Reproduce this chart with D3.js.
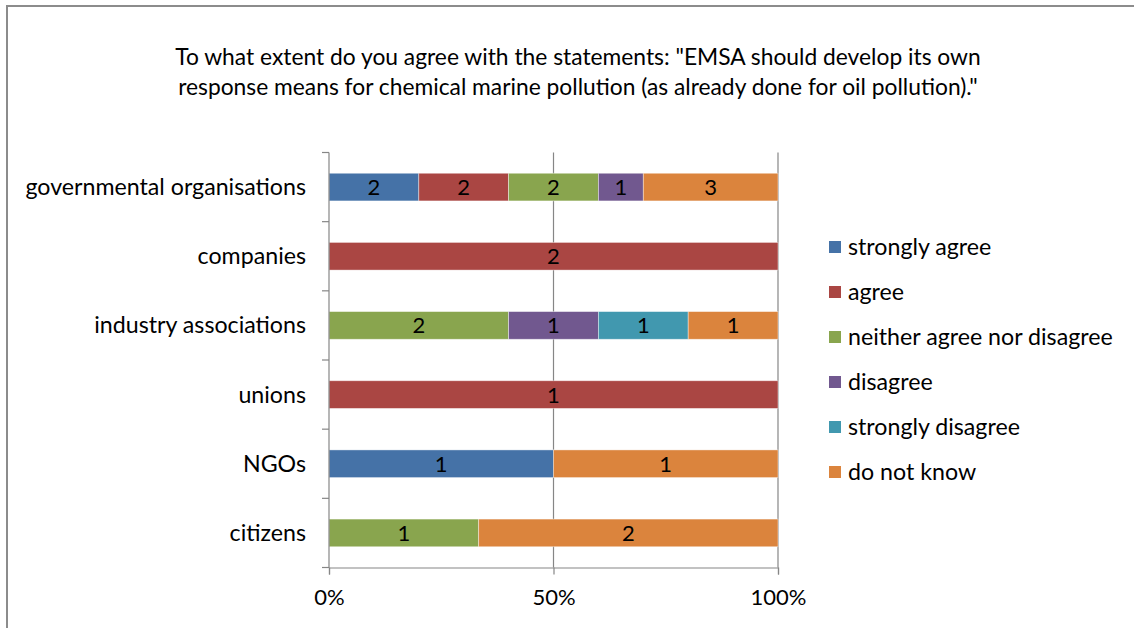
<!DOCTYPE html>
<html><head><meta charset="utf-8">
<script src="https://cdn.jsdelivr.net/npm/d3@7"></script>
<style>
body{margin:0;background:#fff;}
svg{display:block;font-family:Lato,"Open Sans",sans-serif;}
</style></head>
<body><svg id="c" width="1134" height="628"></svg>
<script>
const titleLines = ['To what extent do you agree with the statements: "EMSA should develop its own',
  'response means for chemical marine pollution (as already done for oil pollution)."'];
const categories = ["governmental organisations","companies","industry associations","unions","NGOs","citizens"];
const seriesNames = ["strongly agree","agree","neither agree nor disagree","disagree","strongly disagree","do not know"];
const stronglyAgree   = [2,0,0,0,1,0];
const agree           = [2,2,0,1,0,0];
const neither         = [2,0,2,0,0,1];
const disagree        = [1,0,1,0,0,0];
const stronglyDisagree= [0,0,1,0,0,0];
const doNotKnow       = [3,0,1,0,1,2];
const xTicks = [0,0.5,1];
const colors = ["#4572A7","#AA4643","#89A54E","#71588F","#4198AF","#DB843D"];

const seriesVals = [stronglyAgree,agree,neither,disagree,stronglyDisagree,doNotKnow];
const rows = categories.map((c,i)=>{const r={cat:c}; seriesNames.forEach((s,j)=>r[s]=seriesVals[j][i]); return r;});
const stack = d3.stack().keys(seriesNames).offset(d3.stackOffsetExpand)(rows);

const svg = d3.select("#c");
svg.append("rect").attr("x",7).attr("y",6).attr("width",1140).attr("height",640)
  .attr("fill","none").attr("stroke","#8c8c8c").attr("stroke-width",2);

svg.append("text").attr("text-anchor","middle").attr("fill","#000")
  .style("font-size","22.8px")
  .selectAll("tspan").data(titleLines).join("tspan")
  .attr("x",578).attr("y",(d,i)=>65+i*30).text(d=>d);

const L=329,R=778,T=152.5,B=567.5;
const x = d3.scaleLinear().domain([0,1]).range([L,R]);
const y = d3.scaleBand().domain(categories).range([T,B]).paddingInner(0.6).paddingOuter(0.3);
const yb = d3.scaleBand().domain(categories).range([T,B]);

svg.append("g").selectAll("line").data(xTicks.filter(t=>t>0)).join("line")
  .attr("x1",d=>x(d)).attr("x2",d=>x(d)).attr("y1",T).attr("y2",B)
  .attr("stroke","#868686").attr("stroke-width",1.2);

const g = svg.append("g");
stack.forEach((s,j)=>{
  g.append("g").selectAll("rect").data(s.filter(d=>d[1]-d[0]>0)).join("rect")
    .attr("x",d=>x(d[0])).attr("width",d=>x(d[1])-x(d[0]))
    .attr("y",d=>y(d.data.cat)).attr("height",y.bandwidth())
    .attr("fill",colors[j]).attr("stroke","#fff").attr("stroke-opacity",0.5).attr("stroke-width",0.8);
  g.append("g").selectAll("text").data(s.filter(d=>d[1]-d[0]>0)).join("text")
    .attr("x",d=>(x(d[0])+x(d[1]))/2).attr("y",d=>y(d.data.cat)+y.bandwidth()/2+8)
    .attr("text-anchor","middle").style("font-size","22px").attr("fill","#000")
    .text(d=>d.data[seriesNames[j]]);
});

const yAxis = svg.append("g").attr("transform",`translate(${L},0)`);
yAxis.append("line").attr("x1",0).attr("x2",0).attr("y1",T).attr("y2",B).attr("stroke","#868686").attr("stroke-width",1.2);
const bounds = categories.map(c=>yb(c)).concat([B]);
yAxis.selectAll("line.t").data(bounds).join("line").attr("class","t")
  .attr("x1",-7).attr("x2",0).attr("y1",d=>d).attr("y2",d=>d).attr("stroke","#868686").attr("stroke-width",1.2);
yAxis.selectAll("text").data(categories).join("text")
  .attr("x",-23).attr("y",d=>yb(d)+yb.bandwidth()/2+8).attr("text-anchor","end")
  .style("font-size","23.2px").attr("fill","#000").text(d=>d);

const xAxis = d3.axisBottom(x).tickValues(xTicks).tickFormat(d3.format(".0%")).tickSize(7).tickPadding(15);
const xg = svg.append("g").attr("transform",`translate(0,${B})`).call(xAxis);
xg.select(".domain").attr("stroke","#868686").attr("stroke-width",1.2);
xg.selectAll(".tick line").attr("stroke","#868686").attr("stroke-width",1.2);
xg.selectAll("text").style("font-size","22px").style("font-family","Lato").attr("fill","#000");

const lg = svg.append("g");
seriesNames.forEach((s,j)=>{
  const yy = 247 + j*45;
  lg.append("rect").attr("x",829).attr("y",yy-6).attr("width",12).attr("height",12).attr("fill",colors[j]);
  lg.append("text").attr("x",848).attr("y",yy+8).style("font-size","23.2px").attr("fill","#000").text(s);
});
</script></body></html>
